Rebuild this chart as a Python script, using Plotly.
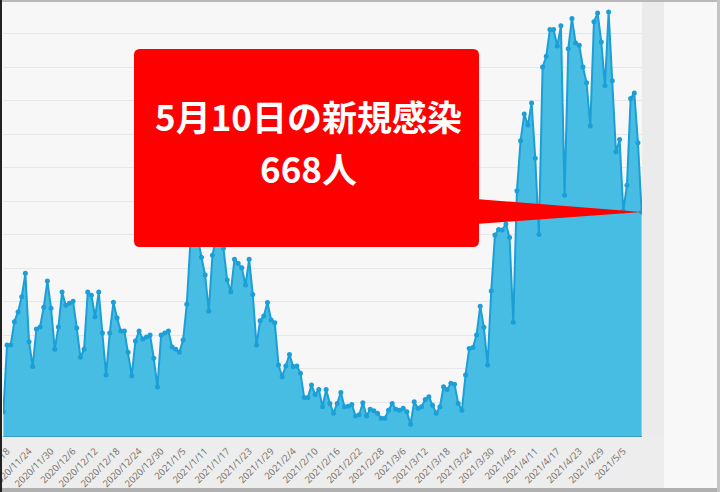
import pandas as pd
import plotly.graph_objects as go

# daily new cases, one value per day starting at start_date
start_date = "2020-11-17"
new_cases = [
    72, 271, 271, 341, 370, 415, 485, 281, 207, 319,
    325, 384, 462, 381, 259, 325, 429, 390, 396, 402,
    322, 235, 259, 429, 420, 355, 429, 307, 182, 307,
    399, 352, 313, 313, 250, 179, 283, 313, 289, 295,
    301, 232, 146, 301, 307, 313, 265, 259, 250, 286,
    393, 580, 654, 590, 533, 480, 372, 539, 590, 600,
    560, 465, 430, 527, 515, 502, 450, 527, 422, 271,
    344, 358, 398, 346, 338, 212, 177, 209, 243, 207,
    209, 187, 115, 115, 152, 124, 139, 87, 139, 97,
    68, 97, 130, 87, 89, 94, 60, 63, 99, 60,
    80, 75, 68, 53, 53, 77, 97, 80, 77, 83,
    72, 35, 102, 83, 87, 109, 117, 92, 68, 87,
    147, 139, 157, 154, 97, 77, 182, 261, 264, 301,
    387, 324, 212, 432, 599, 616, 614, 632, 592, 339,
    731, 880, 960, 927, 993, 828, 601, 1100, 1132, 1212,
    1212, 1163, 1223, 718, 1155, 1245, 1172, 1165, 1100, 1053,
    924, 1235, 1261, 1175, 1044, 1264, 1059, 847, 884, 671,
    748, 1006, 1023, 874, 668,
]

tick_labels = [
    "2020/11/18", "2020/11/24", "2020/11/30", "2020/12/6", "2020/12/12",
    "2020/12/18", "2020/12/24", "2020/12/30", "2021/1/5", "2021/1/11",
    "2021/1/17", "2021/1/23", "2021/1/29", "2021/2/4", "2021/2/10",
    "2021/2/16", "2021/2/22", "2021/2/28", "2021/3/6", "2021/3/12",
    "2021/3/18", "2021/3/24", "2021/3/30", "2021/4/5", "2021/4/11",
    "2021/4/17", "2021/4/23", "2021/4/29", "2021/5/5",
]

callout_tail = "の新規感染"
callout_unit = "人"

dates = pd.date_range(start_date, periods=len(new_cases), freq="D")
day_labels = [f"{d.year}/{d.month}/{d.day}" for d in dates]

W, H = 720, 492
L, R, T, B = 3, 78, 0, 56
pw, ph = W - L - R, H - T - B
x_range = [-0.1, len(new_cases) - 1 + 0.1]
y_range = [0, 1300]


def px(x):
    # screen pixel -> paper x
    return (x - L) / pw


def py(y):
    # screen pixel (from top) -> paper y
    return (T + ph - y) / ph


fig = go.Figure()
fig.add_trace(go.Scatter(
    x=day_labels, y=new_cases,
    mode="lines+markers",
    fill="tozeroy",
    fillcolor="#47bde4",
    line=dict(color="#1b9fd6", width=2),
    marker=dict(color="#1b9fd6", size=5),
    hoverinfo="skip",
))

shapes = []
# grey frame pieces around the plot area
shapes.append(dict(type="rect", xref="paper", yref="paper", layer="below",
                   x0=px(642), x1=px(664), y0=py(488), y1=py(0),
                   fillcolor="#ebebeb", line_width=0))
shapes.append(dict(type="rect", xref="paper", yref="paper", layer="below",
                   x0=px(0), x1=px(664), y0=py(488), y1=py(436),
                   fillcolor="#ededed", line_width=0))
shapes.append(dict(type="rect", xref="paper", yref="paper", layer="above",
                   x0=px(0), x1=px(720), y0=py(2), y1=py(0),
                   fillcolor="#b9b9b9", line_width=0))
shapes.append(dict(type="rect", xref="paper", yref="paper", layer="above",
                   x0=px(0), x1=px(720), y0=py(492), y1=py(488),
                   fillcolor="#b0b0b0", line_width=0))
shapes.append(dict(type="rect", xref="paper", yref="paper", layer="above",
                   x0=px(0), x1=px(2), y0=py(492), y1=py(0),
                   fillcolor="#222222", line_width=0))
shapes.append(dict(type="rect", xref="paper", yref="paper", layer="above",
                   x0=px(717), x1=px(720), y0=py(492), y1=py(0),
                   fillcolor="#c4c4c4", line_width=0))

# callout box with rounded corners
x0, x1 = px(134), px(479)
yt, yb = py(49), py(247)
rx, ry = 6 / pw, 6 / ph
box = (f"M {x0 + rx},{yt} L {x1 - rx},{yt} Q {x1},{yt} {x1},{yt - ry} "
       f"L {x1},{yb + ry} Q {x1},{yb} {x1 - rx},{yb} L {x0 + rx},{yb} "
       f"Q {x0},{yb} {x0},{yb + ry} L {x0},{yt - ry} Q {x0},{yt} {x0 + rx},{yt} Z")
shapes.append(dict(type="path", xref="paper", yref="paper", layer="above",
                   path=box, fillcolor="#fe0000", line_width=0))

# pointer from the box to the last point
tip_x = (len(new_cases) - 1 - x_range[0]) / (x_range[1] - x_range[0])
tip_y = (new_cases[-1] - y_range[0]) / (y_range[1] - y_range[0])
tri = f"M {px(476)},{py(199)} L {tip_x},{tip_y} L {px(476)},{py(224)} Z"
shapes.append(dict(type="path", xref="paper", yref="paper", layer="above",
                   path=tri, fillcolor="#fe0000", line_width=0))

last = dates[-1]
callout_font = dict(family="Noto Sans CJK JP", size=35, color="white", weight=700)
annotations = [
    dict(xref="paper", yref="paper", x=px(308), y=py(116),
         text=f"{last.month}月{last.day}日{callout_tail}", showarrow=False,
         xanchor="center", yanchor="middle", font=callout_font),
    dict(xref="paper", yref="paper", x=px(308), y=py(167),
         text=f"{new_cases[-1]}{callout_unit}", showarrow=False,
         xanchor="center", yanchor="middle", font=callout_font),
]

fig.update_layout(
    width=W, height=H,
    margin=dict(l=L, r=R, t=T, b=B, autoexpand=False),
    paper_bgcolor="#f8f8f8",
    plot_bgcolor="#f7f7f7",
    showlegend=False,
    hovermode=False,
    shapes=shapes,
    annotations=annotations,
)
fig.update_xaxes(
    type="category", range=x_range, automargin=False,
    tickvals=tick_labels, ticktext=tick_labels,
    tickangle=-45, ticks="", showgrid=False,
    tickfont=dict(family="Open Sans", size=9.5, color="#6d6d6d"),
    showline=True, linecolor="#3a9fc6", linewidth=1,
    ticklabelstandoff=5,
)
fig.update_yaxes(
    range=y_range, dtick=100, showticklabels=False, automargin=False,
    gridcolor="#e7e7e7", gridwidth=1, zeroline=False,
)

# the page body has a default 8px margin; drop it so the figure fills the window
fig.write_html("out.html",
               config={"displayModeBar": False},
               post_script="document.body.style.margin='0px';document.body.style.overflow='hidden';")
